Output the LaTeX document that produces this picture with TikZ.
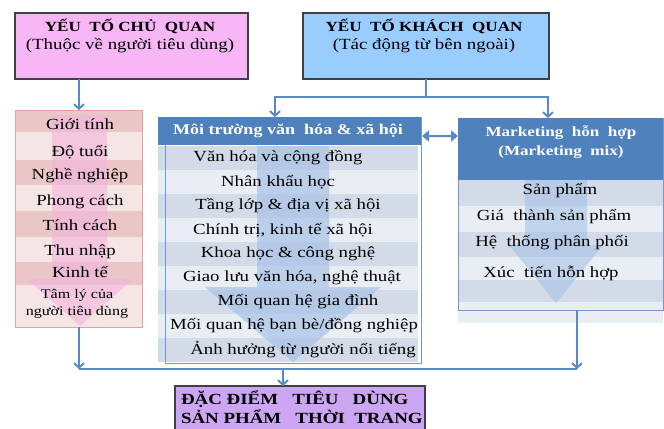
\documentclass[tikz,border=0pt]{standalone}
\usepackage{fontspec}
\setmainfont[FakeStretch=1.22]{Liberation Serif}
\usepackage{tikz}
\usetikzlibrary{arrows.meta, positioning, calc}
\definecolor{subjpink}{HTML}{F7B6F5}
\definecolor{objblue}{HTML}{99CCFF}
\definecolor{headblue}{HTML}{4F81BD}
\definecolor{linkblue}{HTML}{5A8AC6}
\definecolor{rowdark}{HTML}{D3DAE8}
\definecolor{rowlight}{HTML}{E9EDF4}
\definecolor{pinkdark}{HTML}{EBC6C6}
\definecolor{pinklight}{HTML}{F6E5E5}
\definecolor{pinkedge}{HTML}{E3A0A0}
\definecolor{pinkarrow}{HTML}{F3B3DC}
\definecolor{bluearrow}{HTML}{A3C0E6}
\definecolor{featpurple}{HTML}{CCA6F2}
\newcommand{\fsz}[1]{\fontsize{#1bp}{1.3\dimexpr#1bp\relax}\selectfont}

\begin{document}
\begin{tikzpicture}[
  x=1bp, y=-1bp,
  every node/.style={inner sep=0pt, outer sep=0pt},
  topbox/.style={draw=black!75, line width=1.3bp},
  listbox/.style={draw=headblue!80, line width=1bp},
  itemtext/.style={font=\fsz{15.4}},
  headtext/.style={font=\bfseries\fsz{14.8}, text=white, align=center},
  conn/.style={draw=linkblue, line width=2bp},
  downtip/.style={-{Straight Barb[length=4.5bp, width=10bp]}},
  bothtip/.style={{Triangle[length=7bp, width=11bp]}-{Triangle[length=7bp, width=11bp]}}
]
\clip (0,0) rectangle (664,428);

% top boxes
\node[topbox, fill=subjpink, minimum width=233bp, minimum height=66bp] (subj) at (131.5,46) {};
\node[font=\fontsize{15.5bp}{18bp}\selectfont, align=center] (subjtxt) at (130,36)
  {{\bfseries\fontsize{14bp}{18bp}\selectfont YẾU\ \ TỐ CHỦ\ \ QUAN}\\(Thuộc về người tiêu dùng)};
\node[topbox, fill=objblue, minimum width=246bp, minimum height=66bp] (obj) at (426,46) {};
\node[font=\fontsize{15.5bp}{18bp}\selectfont, align=center] (objtxt) at (424,36)
  {{\bfseries\fontsize{14bp}{18bp}\selectfont YẾU\ \ TỐ KHÁCH\ \ QUAN}\\(Tác\ động từ bên ngoài)};

% subjective list
\foreach \ya/\yb/\col in {110/132/pinkdark, 132/160/pinklight, 160/185/pinkdark, 185/211/pinklight,
                          211/237/pinkdark, 237/262/pinklight, 262/285/pinkdark, 285/327/pinklight}
  \fill[\col] (16,\ya) rectangle (142,\yb);
\fill[pinkarrow, opacity=.6] (52,115) -- (107,115) -- (107,279) -- (133,279) -- (80,326)
  -- (27,279) -- (52,279) -- cycle;
\node[draw=pinkedge, line width=1bp, minimum width=126bp, minimum height=217bp] (pers) at (79,218.5) {};
\foreach \y/\txt [count=\k] in {124/Giới\ tính, 152/Độ tuổi, 176/Nghề nghiệp, 202/Phong cách,
                                225/Tính cách, 252/Thu nhập, 272/Kinh tế}
  \node[itemtext] (pers\k) at (80,\y) {\txt};
\node[font=\fontsize{13.2bp}{17bp}\selectfont, align=center] (pers8) at (77,304) {Tâm lý của\\người tiêu dùng};

% social environment list
\foreach \k in {0,...,8}{
  \pgfmathsetmacro{\ya}{146+24*\k}
  \ifodd\k \def\col{rowlight}\else\def\col{rowdark}\fi
  \fill[\col] (158,\ya) rectangle (418,\ya+24);
}
\fill[bluearrow, opacity=.65] (257,146) -- (329,146) -- (329,287) -- (381,287) -- (293,362)
  -- (205,287) -- (257,287) -- cycle;
\node[listbox, minimum width=256bp, minimum height=246bp] (soc) at (293,240) {};
\node[fill=headblue, minimum width=263bp, minimum height=28bp] (sochead) at (289.5,131) {};
\node[headtext] (socheadtxt) at (288,131) {Môi trường văn\ \ hóa \& xã hội};
\foreach \x/\txt [count=\k] in {278/{Văn hóa và cộng đồng}, 278/{Nhân khẩu học},
    288/{Tầng lớp \& địa vị xã hội}, 283/{Chính trị, kinh tế xã hội}, 288/{Khoa học \& công nghệ},
    292/{Giao lưu văn hóa, nghệ thuật}, 298/{Mối quan hệ gia đình},
    294/{Mối quan hệ bạn bè/đồng nghiệp}, 303/{Ảnh hưởng từ người nổi tiếng}}
  \node[itemtext] (soc\k) at (\x,134+24*\k) {\txt};

% marketing mix list
\foreach \ya/\yb/\col in {180/206/rowdark, 206/232/rowlight, 232/257/rowdark, 257/280/rowlight,
                          280/302/rowdark, 302/310/rowlight, 310/323/rowlight}
  \fill[\col] (458,\ya) rectangle (663,\yb);
\fill[bluearrow, opacity=.55] (525,180) -- (587,180) -- (587,245) -- (603,245) -- (556,303)
  -- (509,245) -- (525,245) -- cycle;
\node[listbox, minimum width=205bp, minimum height=192bp] (mix) at (560.5,214) {};
\node[fill=headblue, minimum width=205bp, minimum height=62bp] (mixhead) at (560.5,149) {};
\node[headtext, font=\bfseries\fontsize{14bp}{19bp}\selectfont] (mixheadtxt) at (561,142.5)
  {Marketing\ \ hỗn\ \ hợp\\(Marketing\ \ mix)};
\foreach \y/\x/\txt [count=\k] in {191/560/{Sản phẩm}, 217/554/{Giá\ \ thành sản phẩm},
    243/552/{Hệ\ \ thống phân phối}, 273/551/{Xúc\ \ tiến hỗn hợp}}
  \node[itemtext] (mix\k) at (\x,\y) {\txt};

% result box
\node[topbox, fill=featpurple, minimum width=250bp, minimum height=54bp] (feat) at (300,413) {};
\node[font=\bfseries\fontsize{15.5bp}{19bp}\selectfont, align=left, anchor=west] (feattxt) at (181,407.5)
  {ĐẶC ĐIỂM\ \ \ TIÊU\ \ \ DÙNG\\SẢN PHẨM\ \ \ THỜI\ \ TRANG};

% connectors
\draw[conn, downtip] (subj.south -| pers.north) -- (pers.north);
\draw[conn] (obj.south) -- ++(0,18) coordinate (split);
\draw[conn, downtip] (split) -| ([xshift=-18bp]soc.north);
\draw[conn, downtip] (split) -| ([xshift=-12.5bp]mix.north);
\draw[conn, bothtip, shorten <=1bp] ([yshift=-19bp]soc.north east) -- ([yshift=-18bp]mix.north west);
\coordinate (join) at (283,369);
\coordinate (mixout) at ([xshift=16.5bp]mix.south);
\draw[conn] (pers.south |- join) -- (mixout |- join);
\draw[conn, downtip] (pers.south) -- (pers.south |- join);
\draw[conn, downtip] (mixout) -- (mixout |- join);
\draw[conn, downtip] (join) -- (join |- feat.north);
\end{tikzpicture}
\end{document}
